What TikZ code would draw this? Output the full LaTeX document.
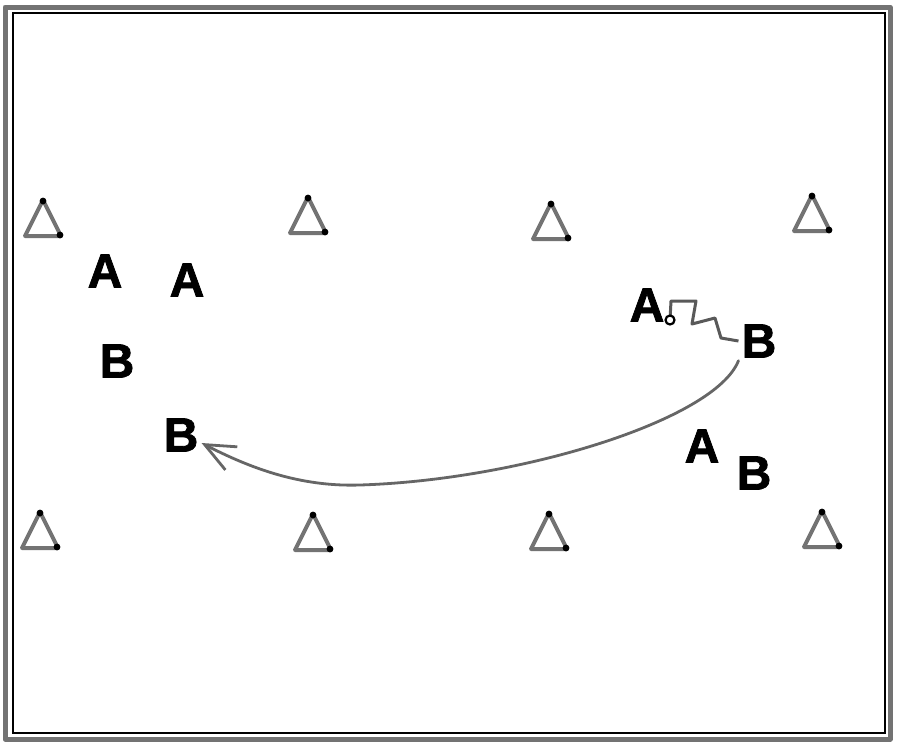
\documentclass[tikz,border=0pt]{standalone}
\usepackage{fontspec}
\setmainfont{Liberation Sans}
\newfontfamily\heavyfont{Liberation Sans}[UprightFont = * Bold, FakeBold=1.6]
\usetikzlibrary{arrows.meta}
\tikzset{
  player/.style={font=\fontsize{48}{48}\heavyfont, inner sep=3pt},
  frameouter/.style={draw=black!55, line width=5pt, line join=round},
  frameinner/.style={draw=black, line width=1.5pt},
  conestyle/.style={draw=black!55, line width=4pt, line join=round},
  passline/.style={draw=black!60, line width=2.8pt, line cap=round},
  dribble/.style={draw=black!65, line width=3pt, line join=round},
  cone/.pic={
    \draw[conestyle] (0,-18) -- (-18,18) -- (18,18) -- cycle;
    \fill[black] (0,-17) circle (3.4);
    \fill[black] (17,17) circle (3.4);
  }
}
\begin{document}
\begin{tikzpicture}[x=1pt,y=-1pt]
\useasboundingbox (0,0) rectangle (900,748);
\fill[white] (0,0) rectangle (900,748);
% frame
\draw[frameouter] (5,7) rectangle (890,739);
\draw[frameinner] (13,13) rectangle (885,733);
% cones
\pic at (43,218) {cone};
\pic at (308,215) {cone};
\pic at (551,221) {cone};
\pic at (812,213) {cone};
\pic at (40,530) {cone};
\pic at (313,532) {cone};
\pic at (549,531) {cone};
\pic at (822,529) {cone};
% players
\node[player] (a1) at (105,271) {A};
\node[player] (a2) at (187,280) {A};
\node[player] (b1) at (117,361) {B};
\node[player] (b2) at (181,435) {B};
\node[player] (a3) at (647,305) {A};
\node[player] (b3) at (759,341) {B};
\node[player] (a4) at (702,446) {A};
\node[player] (b4) at (754,473) {B};
% ball and dribble
\coordinate (ball) at (670,320);
\draw[dribble] (ball) -- (671,301) -- (696,301) -- (692,324) -- (715,318) -- (721,338) -- (b3.west);
\draw[black, line width=2.2pt, fill=white] (ball) circle (4.5);
% pass
\draw[passline, -{Straight Barb[length=30pt, width=26pt, line width=2.8pt]}]
  (b3.south west) .. controls (715,420) and (520,480) .. (360,485)
  .. controls (300,487) and (250,468) .. ([yshift=-8pt]b2.east);
\end{tikzpicture}
\end{document}
